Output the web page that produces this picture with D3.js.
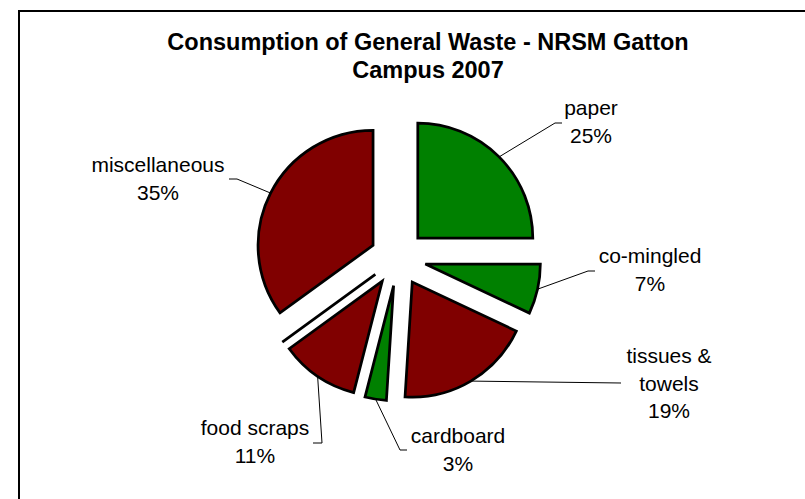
<!DOCTYPE html>
<meta charset="utf-8">
<head>
  <title>Consumption of General Waste - NRSM Gatton Campus 2007</title>
</head>
<style>
  body { margin: 0; background: #fff; }
  .title { font: bold 23.5px "Liberation Sans", Arial, sans-serif; text-anchor: middle; fill: #000; }
  .label { font: 21px "Liberation Sans", Arial, sans-serif; text-anchor: middle; fill: #000; }
  .slice { stroke: #000; stroke-width: 2.75px; stroke-linejoin: miter; }
  .leader { fill: none; stroke: #000; stroke-width: 1px; }
  .frame { fill: none; stroke: #000; stroke-width: 2px; }
</style>
<body>
<script src="https://d3js.org/d3.v7.min.js"></script>
<script>
// data, clockwise from 12 o'clock (the empty one is a zero slice Excel still draws)
var categories = ["paper", "co-mingled", "tissues & towels", "cardboard", "food scraps", "", "miscellaneous"];
var values     = [25, 7, 19, 3, 11, 0, 35];
var streams    = ["recycled", "recycled", "landfill", "recycled", "landfill", "landfill", "landfill"];

var titleLines = ["Consumption of General Waste - NRSM Gatton", "Campus 2007"];

// label placement (text centre, first baseline, leader elbow and end)
var labelLayout = {
  "paper":            {x: 591, y: 115, elbow: [555, 123], end: [562, 123]},
  "co-mingled":       {x: 650, y: 263, elbow: [588, 271], end: [595, 271]},
  "tissues & towels": {x: 669, y: 363, elbow: [621, 383], end: [621, 383]},
  "cardboard":        {x: 458, y: 443, elbow: [400, 450], end: [407, 450]},
  "food scraps":      {x: 255, y: 435, elbow: [322, 443], end: [313, 443]},
  "miscellaneous":    {x: 158, y: 172, elbow: [237, 179], end: [229, 179]}
};

var width = 805, height = 499,
    cx = 398, cy = 258,
    radius = 115,
    explode = 28,
    lineGap = 27.5;

var color = d3.scaleOrdinal()
    .domain(["recycled", "landfill"])
    .range(["#008000", "#800000"]);

var table = categories.map(function(c, i) {
  return {name: c, value: values[i], stream: streams[i]};
});

var svg = d3.select("body").append("svg")
    .attr("width", width)
    .attr("height", height);

// chart area frame, runs off the right and bottom
svg.append("rect")
    .attr("class", "frame")
    .attr("x", 19)
    .attr("y", 11)
    .attr("width", 820)
    .attr("height", 520);

svg.selectAll(".title")
    .data(titleLines)
  .enter().append("text")
    .attr("class", "title")
    .attr("x", 428)
    .attr("y", function(d, i) { return 49.5 + i * 28.5; })
    .text(function(d) { return d; });

var pie = d3.pie()
    .sort(null)
    .value(function(d) { return d.value; });

var arc = d3.arc()
    .innerRadius(0)
    .outerRadius(radius);

var arcs = pie(table);

function mid(d) { return (d.startAngle + d.endAngle) / 2; }
function offset(d) {
  var a = mid(d);
  return [cx + explode * Math.sin(a), cy - explode * Math.cos(a)];
}

svg.selectAll(".slice")
    .data(arcs)
  .enter().append("path")
    .attr("class", "slice")
    .attr("transform", function(d) { var o = offset(d); return "translate(" + o[0] + "," + o[1] + ")"; })
    .attr("fill", function(d) { return color(d.data.stream); })
    .attr("d", arc);

var labelled = arcs.filter(function(d) { return d.data.value > 0; });

// leader lines from the slice edge at its mid angle
svg.selectAll(".leader")
    .data(labelled)
  .enter().append("polyline")
    .attr("class", "leader")
    .attr("points", function(d) {
      var o = offset(d), a = mid(d), L = labelLayout[d.data.name];
      var start = [o[0] + radius * Math.sin(a), o[1] - radius * Math.cos(a)];
      return [start, L.elbow, L.end].map(function(p) { return p.join(","); }).join(" ");
    });

var total = d3.sum(values);

var labels = svg.selectAll(".label")
    .data(labelled)
  .enter().append("text")
    .attr("class", "label")
    .attr("x", function(d) { return labelLayout[d.data.name].x; })
    .attr("y", function(d) { return labelLayout[d.data.name].y; });

// wrap names the way Excel does in its label box
labels.each(function(d) {
  var el = d3.select(this), L = labelLayout[d.data.name];
  var words = d.data.name.split(" "), lines = [], line = [];
  var probe = el.append("tspan");
  words.forEach(function(w) {
    var test = line.concat([w]).join(" ");
    probe.text(test);
    if (probe.node().getComputedTextLength() > 125 && line.length) {
      lines.push(line.join(" "));
      line = [w];
    } else {
      line.push(w);
    }
  });
  lines.push(line.join(" "));
  probe.remove();
  lines.push(Math.round(d.data.value / total * 100) + "%");
  lines.forEach(function(t, i) {
    el.append("tspan")
        .attr("x", L.x)
        .attr("y", L.y + i * lineGap)
        .text(t);
  });
});
</script>
</body>
